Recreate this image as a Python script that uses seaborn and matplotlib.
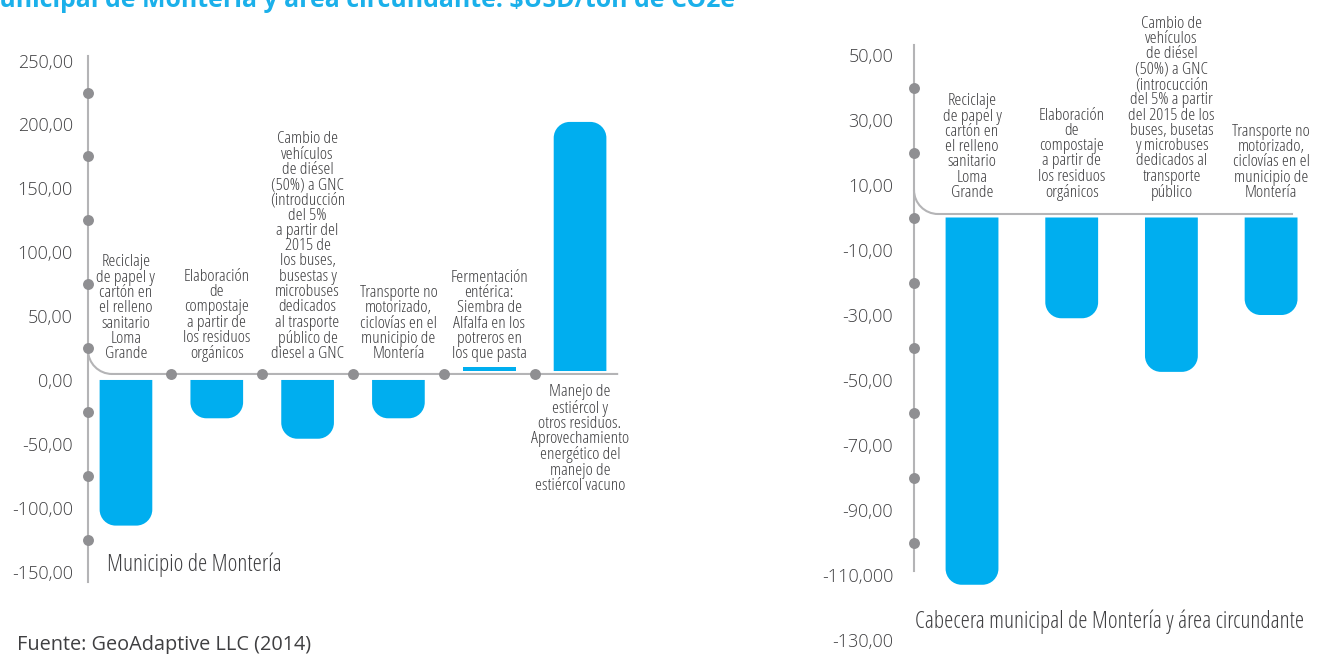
import matplotlib
matplotlib.use("Agg")
import matplotlib.pyplot as plt
from matplotlib.path import Path
from matplotlib.patches import PathPatch
import numpy as np
import pandas as pd
import seaborn as sns

# ---------------------------------------------------------------- data
municipio_labels = [
    "Reciclaje\nde papel y\ncartón en\nel relleno\nsanitario\nLoma\nGrande",
    "Elaboración\nde\ncompostaje\na partir de\nlos residuos\norgánicos",
    "Cambio de\nvehículos\nde diésel\n(50%) a GNC\n(introducción\ndel 5%\na partir del\n"
    "2015 de\nlos buses,\nbusestas y\nmicrobuses\ndedicados\nal trasporte\npúblico de\ndiesel a GNC",
    "Transporte no\nmotorizado,\nciclovías en el\nmunicipio de\nMontería",
    "Fermentación\nentérica:\nSiembra de\nAlfalfa en los\npotreros en\nlos que pasta",
    "Manejo de\nestiércol y\notros residuos.\nAprovechamiento\nenergético del\nmanejo de\nestiércol vacuno",
]
municipio_values = [-114, -30, -46, -30, 3, 195]
municipio_ticks = [250, 200, 150, 100, 50, 0, -50, -100, -150]
municipio_ticklabels = ["250,00", "200,00", "150,00", "100,00", "50,00",
                        "0,00", "-50,00", "-100,00", "-150,00"]

cabecera_labels = [
    "Reciclaje\nde papel y\ncartón en\nel relleno\nsanitario\nLoma\nGrande",
    "Elaboración\nde\ncompostaje\na partir de\nlos residuos\norgánicos",
    "Cambio de\nvehículos\nde diésel\n(50%) a GNC\n(introcucción\ndel 5% a partir\n"
    "del 2015 de los\nbuses, busetas\ny microbuses\ndedicados al\ntransporte\npúblico",
    "Transporte no\nmotorizado,\nciclovías en el\nmunicipio de\nMontería",
]
cabecera_values = [-113, -31, -47.5, -30]
cabecera_ticks = [50, 30, 10, -10, -30, -50, -70, -90, -110, -130]
cabecera_ticklabels = ["50,00", "30,00", "10,00", "-10,00", "-30,00", "-50,00",
                       "-70,00", "-90,00", "-110,000", "-130,00"]

title_text = "municipal de Montería y área circundante: \\$USD/ton de CO2e"
source_text = "Fuente: GeoAdaptive LLC (2014)"
panel_left_name = "Municipio de Montería"
panel_right_name = "Cabecera municipal de Montería y área circundante"

# ---------------------------------------------------------------- style
BLUE = "#00AEEF"
TEXT = "#3f3f41"
LINE = "#b4b4b6"
DOT = "#8f8f92"
W, H = 1317, 654

sns.set_theme(style="white")
plt.rcParams["font.family"] = ["Open Sans", "DejaVu Sans"]
COND = dict(family=["Open Sans", "DejaVu Sans"], fontstretch="condensed", fontweight=300)

fig = plt.figure(figsize=(W / 100, H / 100), dpi=100)
fig.patch.set_facecolor("white")

KAPPA = 0.5523


def scale_of(ax):
    (ax0, ay0), (ax1, ay1) = ax.transData.transform([(0, 0), (1, 1)])
    return abs(ax1 - ax0), abs(ay1 - ay0)


def rounded_bars(ax, positive_base, r_px=16):
    """Replace seaborn's rectangles with bars rounded at their outer end."""
    sx, sy = scale_of(ax)
    rx, ry = r_px / sx, r_px / sy
    for p in list(ax.patches):
        x0, w, h = p.get_x(), p.get_width(), p.get_height()
        x1 = x0 + w
        yb = positive_base if h > 0 else 0.0
        ye = yb + h
        d = np.sign(h)
        p.remove()
        if abs(h) * sy < 1.5 * r_px:
            verts = [(x0, yb), (x0, ye), (x1, ye), (x1, yb), (x0, yb)]
            codes = [Path.MOVETO, Path.LINETO, Path.LINETO, Path.LINETO, Path.CLOSEPOLY]
        else:
            verts = [(x0, yb), (x0, ye - d * ry),
                     (x0, ye - d * ry + d * ry * KAPPA), (x0 + rx - rx * KAPPA, ye), (x0 + rx, ye),
                     (x1 - rx, ye),
                     (x1 - rx + rx * KAPPA, ye), (x1, ye - d * ry + d * ry * KAPPA), (x1, ye - d * ry),
                     (x1, yb), (x0, yb)]
            codes = [Path.MOVETO, Path.LINETO,
                     Path.CURVE4, Path.CURVE4, Path.CURVE4,
                     Path.LINETO,
                     Path.CURVE4, Path.CURVE4, Path.CURVE4,
                     Path.LINETO, Path.CLOSEPOLY]
        ax.add_patch(PathPatch(Path(verts, codes), facecolor=BLUE, edgecolor="none", zorder=2))


def baseline_curve(ax, x_start, y_level, x_end, r_px=24):
    """Grey baseline that bends down from the value axis."""
    sx, sy = scale_of(ax)
    rx, ry = r_px / sx, r_px / sy
    verts = [(x_start, y_level + ry),
             (x_start, y_level + ry - ry * KAPPA), (x_start + rx - rx * KAPPA, y_level),
             (x_start + rx, y_level), (x_end, y_level)]
    codes = [Path.MOVETO, Path.CURVE4, Path.CURVE4, Path.CURVE4, Path.LINETO]
    ax.add_patch(PathPatch(Path(verts, codes), facecolor="none", edgecolor=LINE,
                           lw=1.5, clip_on=False, zorder=1))


def build_panel(rect, values, ticks, ticklabels, xlim, ylim, bar_width, tick_pad,
                spine_bounds=None):
    ax = fig.add_axes(rect)
    df = pd.DataFrame({"accion": [f"a{i}" for i in range(len(values))], "valor": values})
    sns.barplot(data=df, x="accion", y="valor", color=BLUE, saturation=1,
                width=bar_width, ax=ax, errorbar=None)
    ax.set_xlim(*xlim)
    ax.set_ylim(*ylim)
    ax.set_xlabel("")
    ax.set_ylabel("")
    ax.set_xticks([])
    ax.set_yticks(ticks)
    ax.set_yticklabels(ticklabels)
    ax.tick_params(axis="y", length=0, pad=tick_pad, labelsize=13, labelcolor=TEXT)
    for t in ax.get_yticklabels():
        t.set_fontweight(300)
    for s in ["top", "right", "bottom"]:
        ax.spines[s].set_visible(False)
    ax.spines["left"].set_color(LINE)
    ax.spines["left"].set_linewidth(1.5)
    lo, hi = ylim
    if spine_bounds is not None:
        ax.spines["left"].set_bounds(*spine_bounds)
        lo, hi = spine_bounds
    ax.set_facecolor("none")
    # decorative dots halfway between value ticks, along the drawn axis line
    mids = [(a + b) / 2 for a, b in zip(ticks[:-1], ticks[1:])]
    mids = [m for m in mids if lo <= m <= hi]
    ax.scatter([xlim[0]] * len(mids), mids, s=62, color=DOT, zorder=5, clip_on=False,
               linewidths=0)
    return ax


LABEL_KW = dict(ha="center", fontsize=12.6, color=TEXT, linespacing=0.94, **COND)

# ---------------------------------------------------------------- left panel
lx_left = -0.418
axL = build_panel([88 / W, (H - 581.8) / H, 537 / W, 526.3 / H],
                  municipio_values, municipio_ticks, municipio_ticklabels,
                  (lx_left, 5.495), (-158, 254), 0.58, 11)
line_L = 4.7
rounded_bars(axL, positive_base=line_L + 2.3)
baseline_curve(axL, lx_left, line_L, 5.42)
between = np.arange(len(municipio_values) - 1) + 0.5
axL.scatter(between, [line_L] * len(between), s=62, color=DOT, zorder=5,
            clip_on=False, linewidths=0)
for i, (lab, v) in enumerate(zip(municipio_labels, municipio_values)):
    if v > 20:
        axL.text(i, -3.5, lab, va="top", **LABEL_KW)
    else:
        axL.text(i, 14.0, lab, va="bottom", **LABEL_KW)
axL.text(0.036, 0.01, panel_left_name, transform=axL.transAxes, ha="left", va="bottom",
         fontsize=16.8, color=TEXT, **COND)

# ---------------------------------------------------------------- right panel
lx_right = -0.582
axR = build_panel([914 / W, (H - 646.5) / H, 386 / W, 607.75 / H],
                  cabecera_values, cabecera_ticks, cabecera_ticklabels,
                  (lx_right, 3.29), (-132, 55), 0.53, 15,
                  spine_bounds=(-108.8, 53.1))
line_R = 1.08
rounded_bars(axR, positive_base=line_R + 1.0)
baseline_curve(axR, lx_right, line_R, 3.22)
for i, lab in enumerate(cabecera_labels):
    axR.text(i, 5.1, lab, va="bottom", **LABEL_KW)
axR.text(lx_right + 0.01, -124.5, panel_right_name, ha="left", va="center",
         fontsize=16.8, color=TEXT, **COND)

# ---------------------------------------------------------------- title and source
fig.text(735 / W, 1 - 7 / H, title_text, ha="right", va="baseline", fontsize=17.9,
         fontweight="bold", color="#1bb0ea")
fig.text(17 / W, 1 - 650 / H, source_text, ha="left", va="baseline", fontsize=14.3,
         color=TEXT)

fig.savefig("out.png", dpi=100, facecolor="white")
